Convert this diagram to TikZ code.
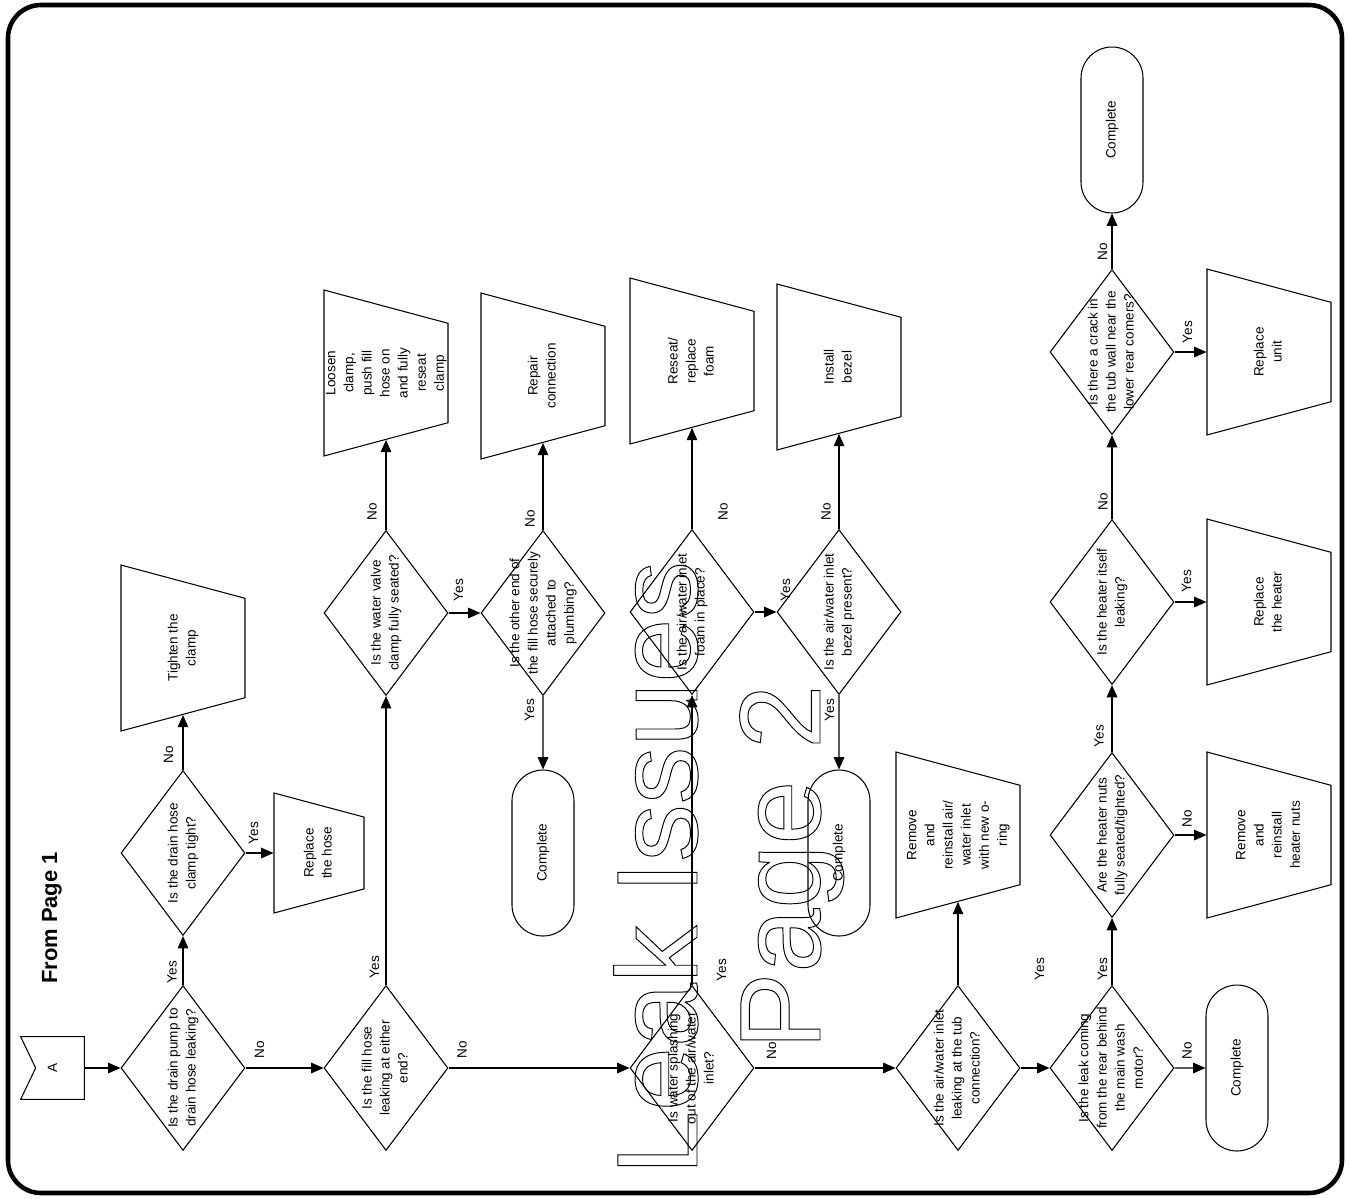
\documentclass[tikz,border=0pt]{standalone}
\usepackage{fontspec}
\setmainfont{Liberation Sans}
\usetikzlibrary{shapes.geometric, shapes.misc, arrows.meta}

\newcommand{\flowfont}{\fontsize{7.7}{10.3}\selectfont}
% text that does not push the shape outwards
\newcommand{\qtext}[1]{\makebox[0pt]{\vbox to 0pt{\vss\hbox{\begin{tabular}{@{}c@{}}#1\end{tabular}}\vss}}}
% outlined (stroked) letters
\newcommand{\hollow}[1]{\special{pdf:code 1 Tr 0.55 w}#1\special{pdf:code 0 Tr}}

\begin{document}
\begin{tikzpicture}[
    x=0.02cm, y=-0.02cm,
    question/.style={diamond, draw, line width=0.6pt, rotate=90, inner sep=0pt,
        minimum width=3.3cm, minimum height=2.48cm, font=\flowfont},
    action/.style={trapezium, trapezium left angle=108.5, trapezium right angle=108.5,
        trapezium stretches=true, draw, line width=0.6pt, rotate=90, inner sep=1pt,
        minimum width=3.32cm, minimum height=2.48cm, font=\flowfont},
    done/.style={rounded rectangle, draw, line width=0.6pt, rotate=90, inner sep=0pt,
        minimum width=3.32cm, minimum height=1.24cm, font=\flowfont},
    answer/.style={rotate=90, inner sep=0pt, font=\flowfont},
    arrow/.style={-{Triangle[length=7pt, width=6pt]}, line width=0.6pt},
    stamp/.style={rotate=90, inner sep=0pt, anchor=base, font=\fontsize{65.5}{72}\selectfont},
]
\useasboundingbox (0,0) rectangle (1350,1198);
\draw[line width=2.6pt, rounded corners=0.66cm] (8,5) rectangle (1342,1193);

% ---- entry ----
\node (title) [rotate=90, inner sep=0pt, font=\fontsize{12.5}{15}\selectfont\bfseries] at (52,918) {From Page 1};
\node (start) [minimum width=1.26cm, minimum height=1.24cm, inner sep=0pt, font=\flowfont] at (52.5,1068) {\rotatebox{90}{A}};
\draw[line width=0.6pt] (start.north east) -- (start.north west) -- ([xshift=0.3cm]start.west)
    -- (start.south west) -- (start.south east) -- cycle;

% ---- drain hose ----
\node (pump)    [question] at (183,1068) {\qtext{Is the drain pump to\\drain hose leaking?}};
\node (clamp)   [question] at (183,853)  {\qtext{Is the drain hose\\clamp tight?}};
\node (tighten) [action]   at (183,648)  {\qtext{Tighten the\\clamp}};
\node (rehose)  [action, minimum width=2.4cm, minimum height=1.8cm] at (319,853) {\qtext{Replace\\the hose}};

% ---- fill hose ----
\node (fill)   [question] at (386,1068) {\qtext{Is the fill hose\\leaking at either\\end?}};
\node (valve)  [question] at (386,613)  {\qtext{Is the water valve\\clamp fully seated?}};
\node (loosen) [action]   at (386,373)  {\qtext{Loosen\\clamp,\\push fill\\hose on\\and fully\\reseat\\clamp}};
\node (other)  [question] at (543,613)  {\qtext{Is the other end of\\the fill hose securely\\attached to\\plumbing?}};
\node (repair) [action]   at (543,376)  {\qtext{Repair\\connection}};
\node (done1)  [done]     at (543,853)  {Complete};

% ---- air/water inlet ----
\node (splash)  [question] at (692,1068) {\qtext{Is water splashing\\out of the air/water\\inlet?}};
\node (foam)    [question] at (692,612)  {\qtext{Is the air/water inlet\\foam in place?}};
\node (reseat)  [action]   at (692,361)  {\qtext{Reseat/\\replace\\foam}};
\node (bezel)   [question] at (839,612)  {\qtext{Is the air/water inlet\\bezel present?}};
\node (install) [action]   at (839,367)  {\qtext{Install\\bezel}};
\node (done2)   [done]     at (839,853)  {Complete};

\node (tub)   [question] at (958,1068) {\qtext{Is the air/water inlet\\leaking at the tub\\connection?}};
\node (oring) [action]   at (958,835)  {\qtext{Remove\\and\\reinstall air/\\water inlet\\with new o-\\ring}};

% ---- rear / heater ----
\node (rear)     [question] at (1112,1068) {\qtext{Is the leak coming\\from the rear behind\\the main wash\\motor?}};
\node (done3)    [done]     at (1237,1068) {Complete};
\node (nuts)     [question] at (1112,835)  {\qtext{Are the heater nuts\\fully seated/tighted?}};
\node (renuts)   [action]   at (1269,835)  {\qtext{Remove\\and\\reinstall\\heater nuts}};
\node (heater)   [question] at (1112,602)  {\qtext{Is the heater itself\\leaking?}};
\node (reheater) [action]   at (1269,602)  {\qtext{Replace\\the heater}};
\node (crack)    [question] at (1112,352)  {\qtext{Is there a crack in\\the tub wall near the\\lower rear comers?}};
\node (reunit)   [action]   at (1269,352)  {\qtext{Replace\\unit}};
\node (done4)    [done]     at (1112,130)  {Complete};

% ---- main spine arrows ----
\draw[arrow] (start)  -- (pump);
\draw[arrow] (pump)   -- (fill);
\draw[arrow] (fill)   -- (splash);
\draw[arrow] (splash) -- (tub);
\draw[arrow] (tub)    -- (rear);
\draw[arrow] (rear)   -- (done3);

% ---- branch arrows ----
\draw[arrow] (pump)   -- (clamp);
\draw[arrow] (clamp)  -- (tighten);
\draw[arrow] (clamp)  -- (rehose);
\draw[arrow] (fill)   -- (valve);
\draw[arrow] (valve)  -- (loosen);
\draw[arrow] (valve)  -- (other);
\draw[arrow] (other)  -- (repair);
\draw[arrow] (other)  -- (done1);
\draw[arrow] (splash) -- (foam);
\draw[arrow] (foam)   -- (reseat);
\draw[arrow] (foam)   -- (bezel);
\draw[arrow] (bezel)  -- (install);
\draw[arrow] (bezel)  -- (done2);
\draw[arrow] (tub)    -- (oring);
\draw[arrow] (rear)   -- (nuts);
\draw[arrow] (nuts)   -- (renuts);
\draw[arrow] (nuts)   -- (heater);
\draw[arrow] (heater) -- (reheater);
\draw[arrow] (heater) -- (crack);
\draw[arrow] (crack)  -- (reunit);
\draw[arrow] (crack)  -- (done4);

% ---- yes / no ----
\node (pumpyes)   [answer] at (172,972)    {Yes};
\node (pumpno)    [answer] at (259.5,1050) {No};
\node (clampno)   [answer] at (168.5,755)  {No};
\node (clampyes)  [answer] at (253.5,833)  {Yes};
\node (fillyes)   [answer] at (374.5,967)  {Yes};
\node (fillno)    [answer] at (462,1050)   {No};
\node (valveno)   [answer] at (372,512)    {No};
\node (valveyes)  [answer] at (458.5,590)  {Yes};
\node (otherno)   [answer] at (530,519)    {No};
\node (otheryes)  [answer] at (529.5,710)  {Yes};
\node (splashyes) [answer] at (721.5,970)  {Yes};
\node (splashno)  [answer] at (771.5,1051) {No};
\node (foamno)    [answer] at (723,512)    {No};
\node (foamyes)   [answer] at (785.5,590)  {Yes};
\node (bezelno)   [answer] at (826,512)    {No};
\node (bezelyes)  [answer] at (829.5,710)  {Yes};
\node (tubyes)    [answer] at (1039.5,969) {Yes};
\node (rearyes)   [answer] at (1102.5,969) {Yes};
\node (rearno)    [answer] at (1187,1051)  {No};
\node (nutsno)    [answer] at (1187,819)   {No};
\node (nutsyes)   [answer] at (1099,736)   {Yes};
\node (heateryes) [answer] at (1186.5,581) {Yes};
\node (heaterno)  [answer] at (1103,502)   {No};
\node (crackyes)  [answer] at (1187.5,332) {Yes};
\node (crackno)   [answer] at (1102.5,252) {No};

% ---- watermark ----
\node (stampline1) [stamp] at (697,868) {\hollow{Leak Issues}};
\node (stampline2) [stamp] at (820,867) {\hollow{Page 2}};

\end{tikzpicture}
\end{document}
